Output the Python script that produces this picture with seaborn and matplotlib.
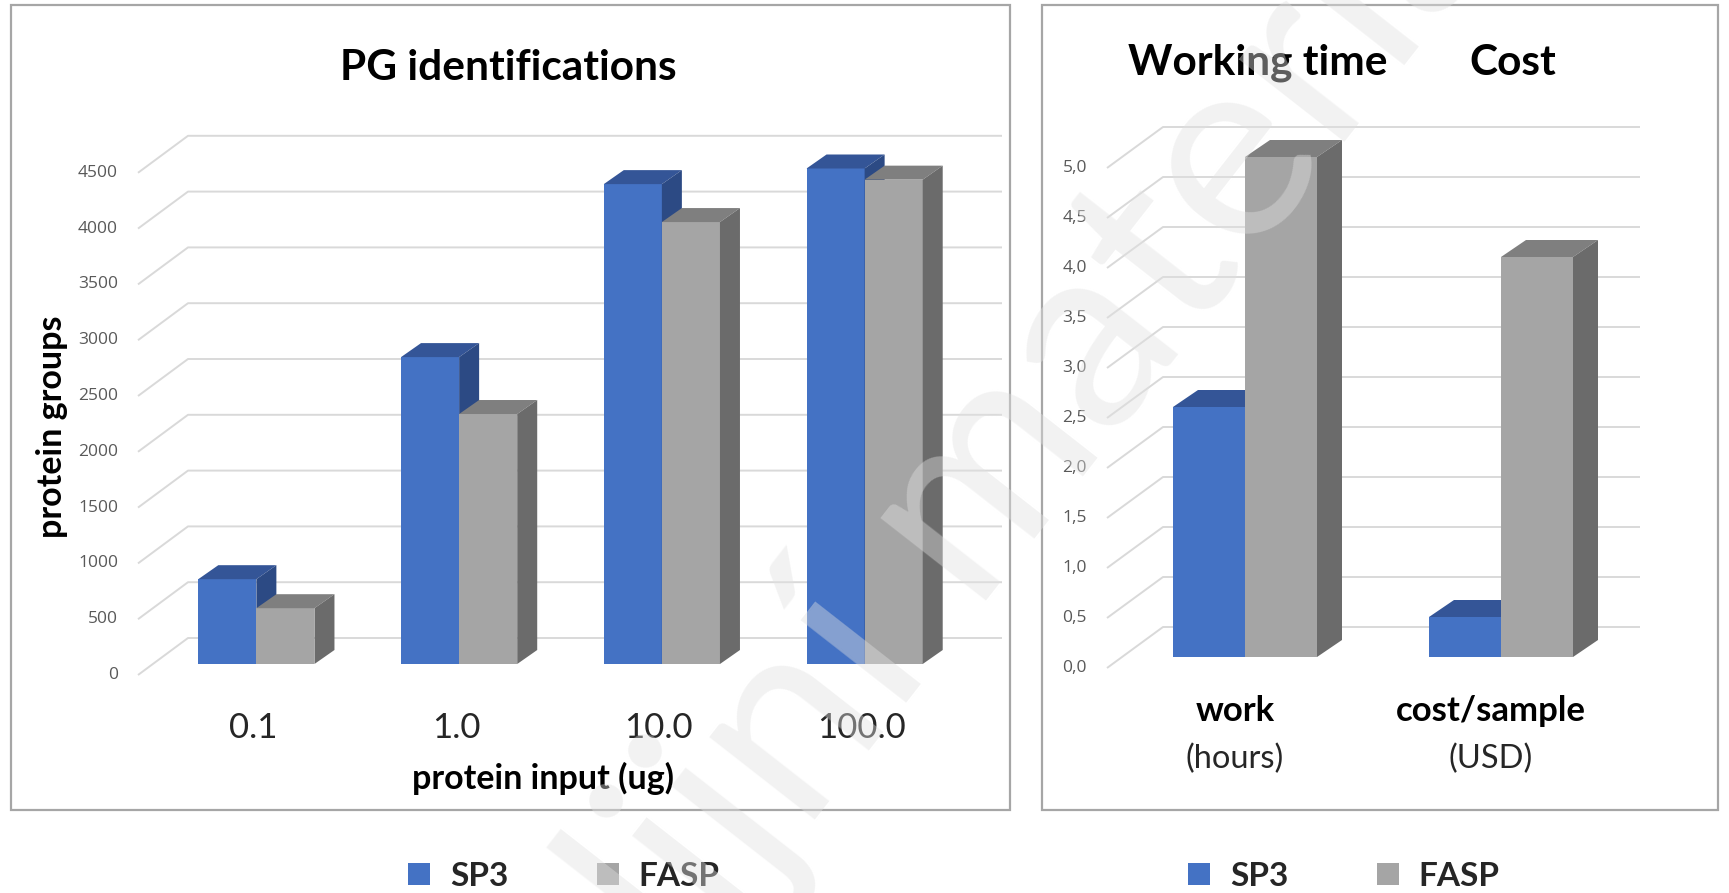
import numpy as np
import pandas as pd
import matplotlib
matplotlib.use("Agg")
import matplotlib.pyplot as plt
import seaborn as sns
from matplotlib.patches import Polygon, Rectangle

# ---- data -------------------------------------------------------------
methods = ["SP3", "FASP"]

protein_input = ["0.1", "1.0", "10.0", "100.0"]
sp3_groups = [760, 2750, 4300, 4440]
fasp_groups = [500, 2240, 3960, 4340]
pg_ticks = [0, 500, 1000, 1500, 2000, 2500, 3000, 3500, 4000, 4500]

effort_cats = ["work", "cost/sample"]
effort_units = ["(hours)", "(USD)"]
sp3_effort = [2.5, 0.4]
fasp_effort = [5.0, 4.0]
effort_ticks = [0.0, 0.5, 1.0, 1.5, 2.0, 2.5, 3.0, 3.5, 4.0, 4.5, 5.0]

watermark = "studijní materiály"

# ---- style ------------------------------------------------------------
W, H, DPI = 1729, 893, 100
front_col = {"SP3": "#4472C4", "FASP": "#A5A5A5"}
top_col = {"SP3": "#345597", "FASP": "#7F7F7F"}
side_col = {"SP3": "#2C4A84", "FASP": "#6B6B6B"}
GRID = "#d9d9d9"
TICK = "#595959"
FRAME = "#a6a6a6"

sns.set_theme(style="white")
plt.rcParams["font.family"] = ["Lato", "DejaVu Sans"]

fig = plt.figure(figsize=(W / DPI, H / DPI), dpi=DPI)
fig.patch.set_facecolor("white")


def axes_px(left, right, top, bottom):
    """Axes placed by pixel edges (image coordinates, y downward)."""
    return fig.add_axes([left / W, (H - bottom) / H, (right - left) / W, (bottom - top) / H])


def to_px(ax, x, y):
    X, Y = ax.transData.transform((x, y))
    return X, H - Y


def to_data(ax, X, Y):
    return tuple(ax.transData.inverted().transform((X, H - Y)))


def extrude(ax, ddx, ddy):
    """Give every bar a top and a side face for the 3-D column look."""
    for level, container in zip(methods, ax.containers):
        z = 2 if level == "SP3" else 3
        for bar in container:
            bar.set_zorder(z)
            x0, y0 = bar.get_x(), bar.get_y()
            x1, y1 = x0 + bar.get_width(), y0 + bar.get_height()
            X0, Yb = to_px(ax, x0, y0)
            X1, Yt = to_px(ax, x1, y1)
            top = [(X0, Yt), (X1, Yt), (X1 + ddx, Yt - ddy), (X0 + ddx, Yt - ddy)]
            side = [(X1, Yt), (X1 + ddx, Yt - ddy), (X1 + ddx, Yb - ddy), (X1, Yb)]
            for pts, col in ((top, top_col[level]), (side, side_col[level])):
                ax.add_patch(Polygon([to_data(ax, *p) for p in pts], closed=True,
                                     fc=col, ec="none", zorder=z + 0.5, clip_on=False))


def walls(ax, ticks, front, back, right_end, label_x, fmt):
    """Side-wall diagonals, back-wall gridlines and value labels."""
    xmin = ax.get_xlim()[0]
    for v in ticks:
        X, Y = to_px(ax, xmin, v)
        fx, fy = X + front[0], Y + front[1]
        bx, by = X + back[0], Y + back[1]
        d = np.array([to_data(ax, *p) for p in [(fx, fy), (bx, by), (right_end, by)]])
        ax.plot(d[:, 0], d[:, 1], color=GRID, lw=1.4, zorder=0.5, clip_on=False,
                solid_capstyle="butt")
        tx, ty = to_data(ax, label_x, fy)
        ax.text(tx, ty, fmt(v), ha="right", va="center", fontsize=12.5, color=TICK,
                family=["Open Sans", "DejaVu Sans"], clip_on=False)


def px_text(X, Y, s, **kw):
    return fig.text(X / W, 1 - Y / H, s, ha="center", va="center", **kw)


def frame(x0, x1, y0, y1):
    fig.add_artist(Rectangle((x0 / W, 1 - y1 / H), (x1 - x0) / W, (y1 - y0) / H,
                             transform=fig.transFigure, fill=False, ec=FRAME, lw=1.6))


def legend_at(X, Y):
    handles = [Rectangle((0, 0), 1, 1, fc=front_col[m], ec="none") for m in methods]
    fig.legend(handles, methods, loc="center left", bbox_to_anchor=(X / W, 1 - Y / H),
               ncol=2, frameon=False, prop={"weight": "bold", "size": 24},
               handlelength=0.66, handleheight=0.66, handletextpad=0.6,
               columnspacing=2.65, borderpad=0, borderaxespad=0)


# ---- left panel: protein group identifications -------------------------
pg = pd.DataFrame({
    "input": protein_input * 2,
    "method": ["SP3"] * 4 + ["FASP"] * 4,
    "groups": sp3_groups + fasp_groups,
})
axL = axes_px(155, 966, 664 - 9 * 55.8, 664)
sns.barplot(data=pg, x="input", y="groups", hue="method", order=protein_input,
            hue_order=methods, palette=front_col, saturation=1, width=0.573, gap=0,
            errorbar=None, legend=False, ax=axL, linewidth=0)
axL.set_xlim(-0.5, 3.5)
axL.set_ylim(0, 4500)
axL.axis("off")
walls(axL, pg_ticks, (-17, 11), (33, -26), 1002, 118, lambda v: f"{v:d}")
extrude(axL, 20, 14)
for i, lab in enumerate(protein_input):
    X, _ = to_px(axL, i, 0)
    px_text(X - 3, 728, lab, fontsize=25, color="#262626")
px_text(508, 68, "PG identifications", fontsize=30.5, fontweight="bold", color="black")
px_text(543, 778, "protein input (ug)", fontsize=24.5, fontweight="bold", color="black")
px_text(52, 427, "protein groups", fontsize=24.5, fontweight="bold", color="black",
        rotation=90)

# ---- right panel: working time and cost -------------------------------
eff = pd.DataFrame({
    "item": effort_cats * 2,
    "method": ["SP3"] * 2 + ["FASP"] * 2,
    "value": sp3_effort + fasp_effort,
})
axR = axes_px(1117, 1629, 157, 657)
sns.barplot(data=eff, x="item", y="value", hue="method", order=effort_cats,
            hue_order=methods, palette=front_col, saturation=1, width=0.5625, gap=0,
            errorbar=None, legend=False, ax=axR, linewidth=0)
axR.set_xlim(-0.5, 1.5)
axR.set_ylim(0, 5)
axR.axis("off")
walls(axR, effort_ticks, (-10, 11), (46, -30), 1640, 1087,
      lambda v: f"{v:.1f}".replace(".", ","))
extrude(axR, 25, 17)
for i, (lab, unit) in enumerate(zip(effort_cats, effort_units)):
    X, _ = to_px(axR, i, 0)
    px_text(X - 10, 711, lab, fontsize=25, fontweight="bold", color="black")
    px_text(X - 10, 759, unit, fontsize=23.5, color="#262626")
px_text(1258, 63, "Working time", fontsize=30.5, fontweight="bold", color="black")
px_text(1513, 63, "Cost", fontsize=30.5, fontweight="bold", color="black")

# ---- frames and legends ------------------------------------------------
frame(11, 1010, 5, 810)
frame(1042, 1718, 5, 810)
legend_at(408, 876)
legend_at(1188, 876)

# ---- watermark: diagonal, translucent, anchored on the start of "materiály"
WM_SIZE, WM_ANGLE = 190, 52
renderer = fig.canvas.get_renderer()
word1 = watermark.split(" ")[0] + " m"
probe_a = fig.text(0, 0, word1, fontsize=WM_SIZE)
probe_b = fig.text(0, 0, "m", fontsize=WM_SIZE)
advance = (probe_a.get_window_extent(renderer).width
           - probe_b.get_window_extent(renderer).width)
probe_a.remove()
probe_b.remove()
ux, uy = np.cos(np.radians(WM_ANGLE)), -np.sin(np.radians(WM_ANGLE))
mx, my = 975, 615          # where the second word begins (image pixels)
sx, sy = mx - advance * ux, my - advance * uy
fig.text(sx / W, 1 - sy / H, watermark, rotation=WM_ANGLE, rotation_mode="anchor",
         ha="left", va="baseline", fontsize=WM_SIZE, fontweight="normal",
         color="#e1e1e1", alpha=0.42, zorder=10)

fig.savefig("out.png", dpi=DPI)
